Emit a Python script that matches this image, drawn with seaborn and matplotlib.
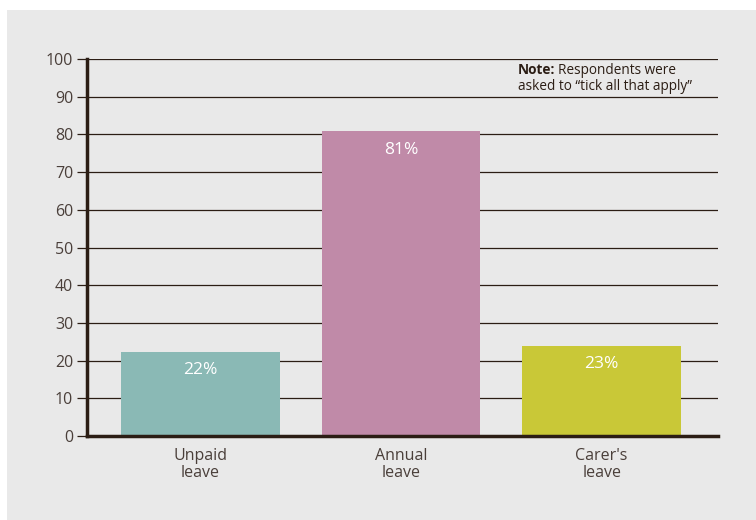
import matplotlib
matplotlib.use("Agg")
import matplotlib.pyplot as plt
import seaborn as sns
import pandas as pd
from matplotlib.patches import Rectangle

categories = ["Unpaid\nleave", "Annual\nleave", "Carer's\nleave"]
values = [22.3, 80.9, 23.9]
value_labels = ["22%", "81%", "23%"]
colors = ["#8ab9b5", "#c08aa8", "#c9c837"]
yticks = [0, 10, 20, 30, 40, 50, 60, 70, 80, 90, 100]

sns.set_theme(style="white")
plt.rcParams['font.family'] = ['Open Sans', 'DejaVu Sans']

BG = "#e9e9e9"
DARK = "#2b1d14"
TXT = "#4a3f3a"

fig = plt.figure(figsize=(7.56, 5.2), dpi=100)
fig.patch.set_facecolor("white")
fig.patches.append(Rectangle((7/756, 0), 1 - 7/756, 1 - 10/520, transform=fig.transFigure,
                             facecolor=BG, edgecolor="none", zorder=-10))
ax = fig.add_axes([87/756, (520-436)/520, (718-87)/756, (436-59)/520])
ax.set_zorder(1)
ax.set_facecolor(BG)

df = pd.DataFrame({"cat": categories, "val": values})
sns.barplot(data=df, x="cat", y="val", hue="cat", palette=colors, legend=False,
            width=0.79, saturation=1, linewidth=0, ax=ax, zorder=3)

ax.set_ylim(0, 100)
ax.set_xlim(-0.565, 2.58)
ax.set_yticks(yticks)
ax.set_yticklabels([str(t) for t in yticks], fontsize=11.5, color=TXT)
for t in yticks[1:]:
    ax.axhline(t, color=DARK, lw=0.9, zorder=1)

for i, (v, lab) in enumerate(zip(values, value_labels)):
    ax.text(i, v - 2.8, lab, ha="center", va="top", color="white", fontsize=12.5, zorder=4)

ax.set_xlabel("")
ax.set_ylabel("")
for s in ["top", "right"]:
    ax.spines[s].set_visible(False)
ax.spines["left"].set_color(DARK)
ax.spines["left"].set_linewidth(2.5)
ax.spines["bottom"].set_color(DARK)
ax.spines["bottom"].set_linewidth(2.5)
ax.spines["bottom"].set_zorder(5)
ax.tick_params(axis="y", left=True, length=7, width=0.9, color=DARK, pad=3)
ax.tick_params(axis="x", bottom=False, labelsize=11.5, labelcolor=TXT, pad=3)
for lbl in ax.get_xticklabels():
    lbl.set_linespacing(1.08)

fs_note = 9.8
note_bold = fig.text(518/756, 1 - 70/520, "Note:", fontsize=fs_note, color=DARK,
                     ha="left", va="center", fontweight="bold")
fig.canvas.draw()
bb = note_bold.get_window_extent()
fig.text((bb.x1 + 3)/756, 1 - 70/520, "Respondents were", fontsize=fs_note, color=DARK,
         ha="left", va="center")
fig.text(518/756, 1 - 86/520, "asked to \u201ctick all that apply\u201d", fontsize=fs_note, color=DARK,
         ha="left", va="center")

fig.savefig("out.png", dpi=100, facecolor=fig.get_facecolor())
